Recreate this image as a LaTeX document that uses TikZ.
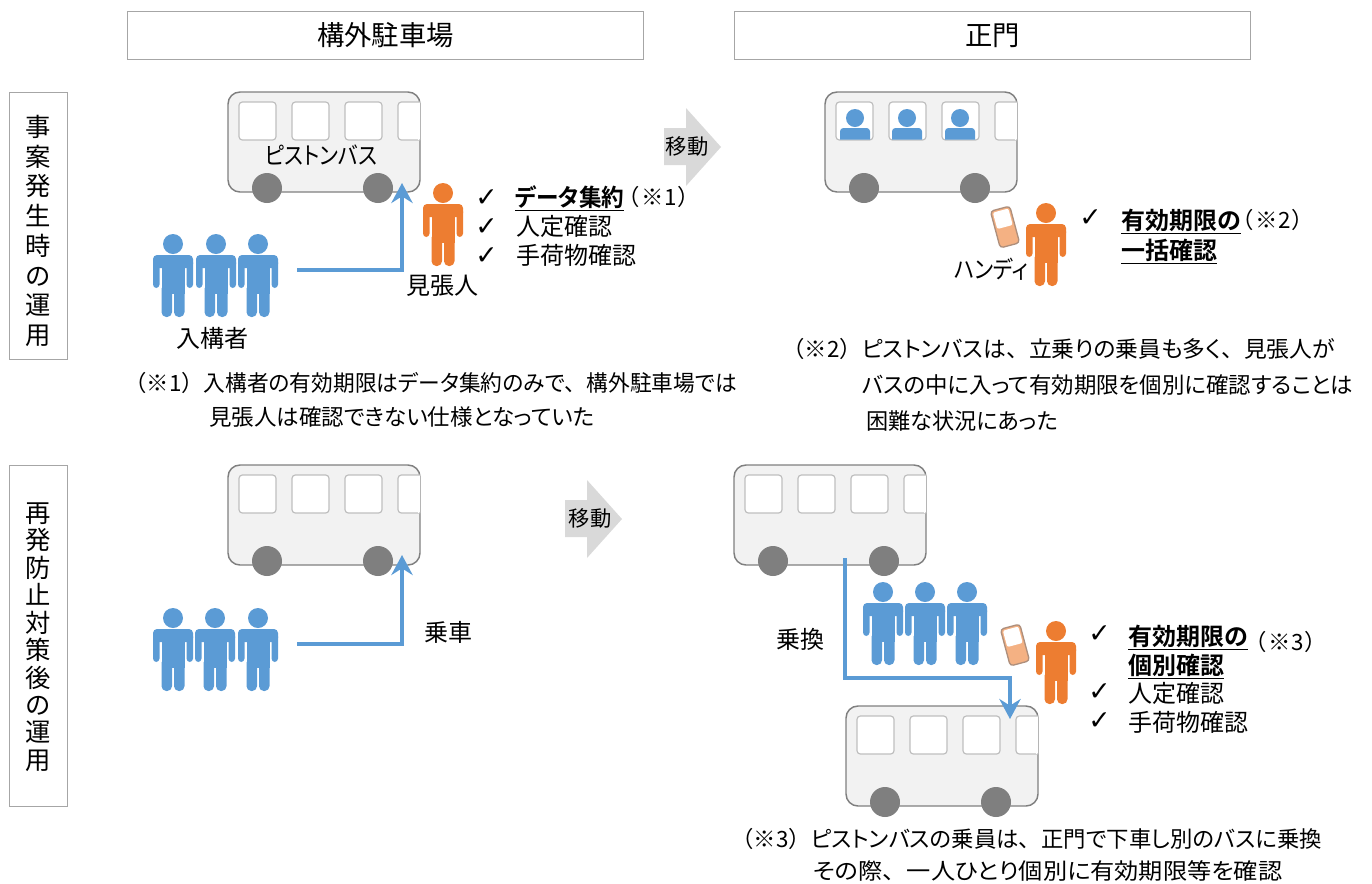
\documentclass[tikz,border=0pt]{standalone}
\usepackage{graphicx}
\usepackage{fontspec}
\setmainfont[RawFeature={+palt},BoldFont={Noto Sans CJK JP Bold}]{Noto Sans CJK JP}
\newfontfamily\fw{Noto Sans CJK JP}
\newfontfamily\chk{DejaVu Sans}
\newcommand{\fitw}[2]{\resizebox{\dimexpr #1pt*3/4\relax}{\height}{#2}}
\newcommand{\refmark}[1]{{\fw （※#1）}}
\newcommand{\srefmark}[1]{（\hspace{1.6pt}※#1\hspace{1.6pt}）}
\usetikzlibrary{arrows.meta}
\definecolor{pblue}{HTML}{5B9BD5}
\definecolor{porange}{HTML}{ED7D31}
\definecolor{busfill}{HTML}{F2F2F2}
\definecolor{busline}{HTML}{7F7F7F}
\definecolor{winline}{HTML}{BFBFBF}
\definecolor{boxline}{HTML}{A6A6A6}
\definecolor{blockgray}{HTML}{D9D9D9}
\definecolor{phonefill}{HTML}{F4B183}
\definecolor{phoneline}{HTML}{AE8F7C}
\tikzset{
  x=0.75pt,y=-0.75pt,
  txt/.style={inner sep=0pt,text height=16pt,text depth=2pt,anchor=west,font=\fontsize{18}{18}\selectfont,text=black},
  note/.style={txt,text height=15pt,text depth=2pt,font=\fontsize{16.8}{17}\selectfont},
  ctxt/.style={txt,anchor=center},
  chkmark/.style={txt,font=\fontsize{20}{20}\chk},
  hdr/.style={draw=boxline,line width=0.7pt,fill=white,minimum height=36pt,inner sep=0pt,text height=18pt,text depth=2pt,font=\fontsize{20.5}{20.5}\selectfont},
  sidebox/.style={draw=boxline,line width=0.7pt,fill=white,inner sep=0pt},
  sidetext/.style={inner sep=0pt,align=center},
  flow/.style={draw=pblue,line width=3pt,-{Stealth[length=15pt,width=16pt,inset=5pt]}},
  block/.style={fill=blockgray,draw=none},
  pics/person/.style={code={
    \fill[#1] (0,0) circle[radius=10];
    \fill[#1,rounded corners=3pt] (-20,11) rectangle (20,24);
    \fill[#1,rounded corners=2.6pt] (-20,15) rectangle (-13.5,44);
    \fill[#1,rounded corners=2.6pt] (13.5,15) rectangle (20,44);
    \fill[#1] (-11.5,14) rectangle (11.5,50);
    \fill[#1,rounded corners=3.6pt] (-11.5,40) rectangle (-1,73);
    \fill[#1,rounded corners=3.6pt] (1,40) rectangle (11.5,73);
  }},
  pics/bus/.style={code={
    \draw[fill=busfill,draw=busline,line width=1.1pt,rounded corners=9pt] (0,0) rectangle (192,100);
    \foreach \wx in {11,64,117}
      \draw[fill=white,draw=winline,line width=0.9pt,rounded corners=2.5pt] (\wx,10) rectangle ++(37,38);
    \draw[fill=white,draw=winline,line width=0.9pt,rounded corners=2.5pt] (192,10) -- (170,10) -- (170,48) -- (192,48);
    \fill[white] (190,10.5) rectangle (191.4,47.5);
    \fill[busline] (39,96) circle[radius=15];
    \fill[busline] (150,96) circle[radius=15];
  }},
  pics/rider/.style={code={
    \fill[pblue] (0,0) circle[radius=9];
    \fill[pblue] (-15,21.5) [rounded corners=2.5pt] -- (-15,10) -- (15,10) [sharp corners] -- (15,21.5) -- cycle;
  }},
  pics/handy/.style={code={
    \draw[fill=phonefill,draw=phoneline,line width=1pt,rounded corners=2.5pt] (-10,-19) rectangle (10,19);
    \fill[white,rounded corners=1.5pt] (-8,-17) rectangle (8,0);
  }}
}
\begin{document}
\begin{tikzpicture}
\useasboundingbox (0,0) rectangle (1372,883);
% header and side boxes
\node[hdr,minimum width=387.4pt] (h1) at (385.5,35) {構外駐車場};
\node[hdr,minimum width=387.4pt] (h2) at (992.5,35) {正門};
\node[sidebox,minimum width=43.5pt,minimum height=200.25pt] (s1) at (38,225.5) {};
\node[sidetext,font=\fontsize{19}{22.3}\selectfont] (s1t) at (38,231) {事\\案\\発\\生\\時\\の\\運\\用};
\node[sidebox,minimum width=43.5pt,minimum height=255.75pt] (s2) at (38,635.5) {};
\node[sidetext,font=\fontsize{19}{20.6}\selectfont] (s2t) at (38,637) {再\\発\\防\\止\\対\\策\\後\\の\\運\\用};
% buses
\pic at (228,92) {bus};
\pic at (825,92) {bus};
\pic at (228,465) {bus};
\pic at (734,465) {bus};
\pic at (846,706) {bus};
\pic at (855,118) {rider};
\pic at (907,118) {rider};
\pic at (960,118) {rider};
% block arrows
\fill[block] (664,128) -- (686,128) -- (686,108) -- (721,147) -- (686,186) -- (686,165) -- (664,165) -- cycle;
\node[note,anchor=center,font=\fontsize{16}{16}\selectfont] (m1) at (687,146) {移動};
\fill[block] (565,500) -- (587,500) -- (587,480) -- (622,519) -- (587,558) -- (587,537) -- (565,537) -- cycle;
\node[note,anchor=center,font=\fontsize{16}{16}\selectfont] (m2) at (590,518) {移動};
% people
\foreach \px in {173,216,258} \pic at (\px,244) {person=pblue};
\foreach \px in {173,215,258} \pic at (\px,618) {person=pblue};
\foreach \px in {883,925,967} \pic at (\px,592) {person=pblue};
\pic at (443,193) {person=porange};
\pic at (1046,213) {person=porange};
\pic at (1056,631) {person=porange};
\pic[rotate=15] at (1005,227) {handy};
\pic[rotate=15] at (1015,645) {handy};
% connectors
\coordinate (a1s) at (297,270); \coordinate (a1e) at (402,183);
\coordinate (a2s) at (297,644); \coordinate (a2e) at (402,555);
\coordinate (a3s) at (845,558); \coordinate (a3m) at (1010,678); \coordinate (a3e) at (1010,719);
\draw[flow] (a1s) -| (a1e);
\draw[flow] (a2s) -| (a2e);
\draw[flow] (a3s) |- (a3m) -- (a3e);
% labels top-left
\node[ctxt] (t1) at (321,155) {\fitw{112}{ピストンバス}};
\node[ctxt] (t2) at (212,338) {入構者};
\node[ctxt] (t3) at (442,285) {見張人};
\node[chkmark] (c1) at (475,197) {✓};
\node[chkmark] (c2) at (475,226) {✓};
\node[chkmark] (c3) at (475,255) {✓};
\node[txt] (t4) at (515,197) {\underline{\fitw{109}{\textbf{データ集約}}}};
\node[note] (t5) at (628,197) {\srefmark{1}};
\node[txt] (t6) at (516,226) {人定確認};
\node[txt] (t7) at (516,255) {手荷物確認};
\node[note] (t8) at (124,383) {\refmark{1}\fitw{533}{入構者の有効期限はデータ集約のみで{\fw 、}構外駐車場では}};
\node[note] (t9) at (209,417) {\fitw{385}{見張人は確認できない仕様となっていた}};
% labels top-right
\node[txt] (t10) at (954,269) {\fitw{74}{ハンディ}};
\node[chkmark] (c4) at (1079,217) {✓};
\node[txt] (t11) at (1121,220) {\textbf{\underline{有効期限の}}};
\node[note] (t12) at (1242,220) {\srefmark{2}};
\node[txt] (t13) at (1121,250) {\textbf{\underline{一括確認}}};
\node[note] (t14) at (782,349) {\refmark{2}\fitw{473}{ピストンバスは{\fw 、}立乗りの乗員も多く{\fw 、}見張人が}};
\node[note] (t15) at (862,385) {\fitw{491}{バスの中に入って有効期限を個別に確認することは}};
\node[note] (t16) at (866,421) {\fitw{192}{困難な状況にあった}};
% labels bottom
\node[txt] (t17) at (424,632) {乗車};
\node[txt] (t18) at (776,639) {乗換};
\node[chkmark] (c5) at (1088,633) {✓};
\node[txt] (t19) at (1128,636) {\textbf{\underline{有効期限の}}};
\node[txt] (t20) at (1128,665) {\textbf{\underline{個別確認}}};
\node[note] (t21) at (1255,642) {\srefmark{3}};
\node[chkmark] (c6) at (1088,691) {✓};
\node[txt] (t22) at (1128,693) {人定確認};
\node[chkmark] (c7) at (1088,720) {✓};
\node[txt] (t23) at (1128,722) {手荷物確認};
\node[note] (t24) at (731,839) {\refmark{3}\fitw{511}{ピストンバスの乗員は{\fw 、}正門で下車し別のバスに乗換}};
\node[note] (t25) at (813,871) {\fitw{469}{その際{\fw 、}一人ひとり個別に有効期限等を確認}};
\end{tikzpicture}
\end{document}
